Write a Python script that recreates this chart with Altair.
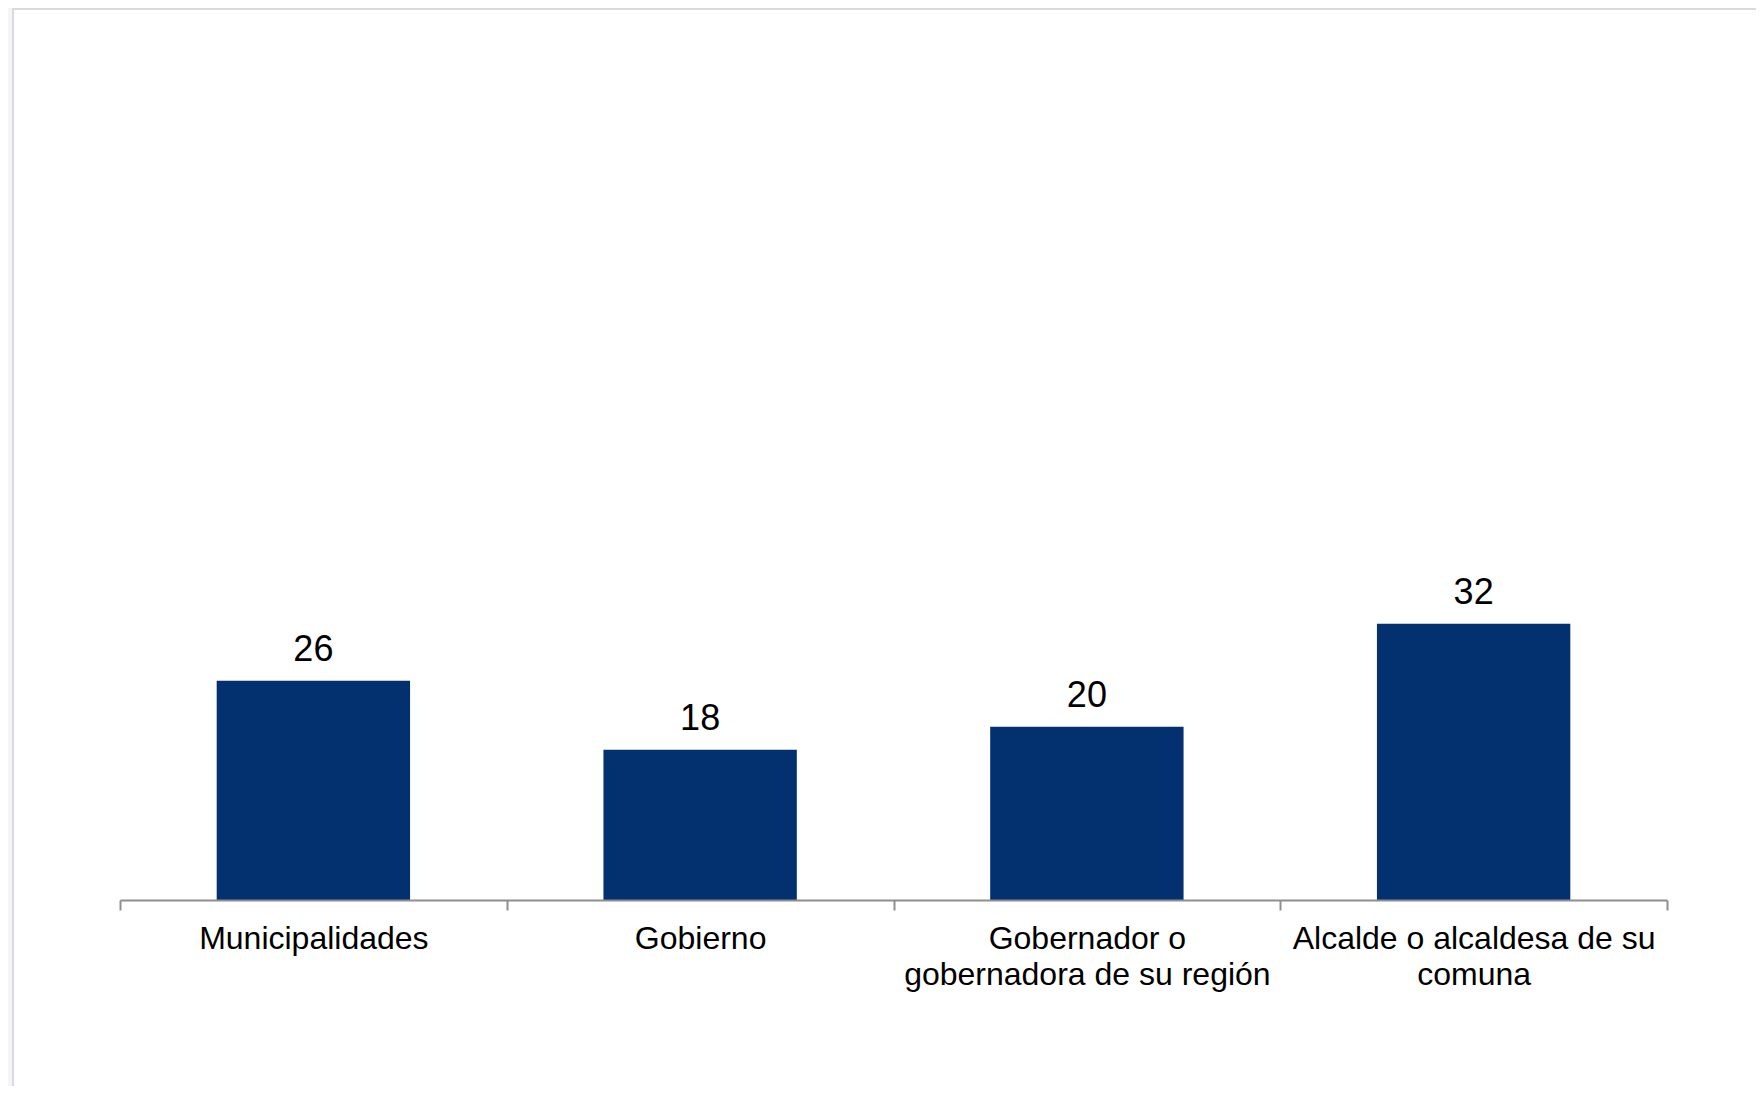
import altair as alt
import pandas as pd

categories = [
    "Municipalidades",
    "Gobierno",
    "Gobernador o\ngobernadora de su región",
    "Alcalde o alcaldesa de su\ncomuna",
]
values = [25.7, 17.6, 20.3, 32.4]

df = pd.DataFrame({"cat": categories, "val": values})

FONT = "Liberation Sans"

x_enc = alt.X(
    "cat:N",
    sort=None,
    title=None,
    scale=alt.Scale(paddingInner=0, paddingOuter=0),
    axis=alt.Axis(
        labelExpr="split(datum.label, '\\n')",
        labelAngle=0,
        labelFont=FONT,
        labelFontSize=32,
        labelColor="#000000",
        labelLineHeight=36,
        labelBaseline="alphabetic",
        labelPadding=38,
        labelLimit=600,
        labelOverlap=False,
        labelFlush=False,
        tickBand="extent",
        tickSize=10,
        tickWidth=2,
        tickColor="#8e8e8e",
        domainColor="#8e8e8e",
        domainWidth=2,
        zindex=2,
    ),
)
y_enc = alt.Y("val:Q", scale=alt.Scale(domain=[0, 100]), axis=None)

panel = alt.Chart(pd.DataFrame({"a": [0]})).mark_rect(
    fill="white", stroke="#d9d9de", strokeWidth=2
).encode(
    x=alt.value(-107), x2=alt.value(1700), y=alt.value(-38), y2=alt.value(1200)
)

bars = alt.Chart(df).mark_bar(
    color="#03306f", width=alt.RelativeBandSize(0.5)
).encode(x=x_enc, y=y_enc)

labels = alt.Chart(df).mark_text(
    font=FONT, fontSize=36, color="#000000", baseline="alphabetic", dy=-20
).encode(
    x=alt.X("cat:N", sort=None),
    y=y_enc,
    text=alt.Text("val:Q", format=".0f"),
)

chart = (
    alt.layer(panel, bars, labels)
    .properties(
        width=1547,
        height=853,
        background="#f4f5f9",
        padding={"left": 112, "top": 39, "right": 89, "bottom": 186},
        autosize=alt.AutoSizeParams(type="none"),
    )
    .configure_view(stroke=None)
)

chart.save("out.html", embed_options={"renderer": "svg", "actions": False})
